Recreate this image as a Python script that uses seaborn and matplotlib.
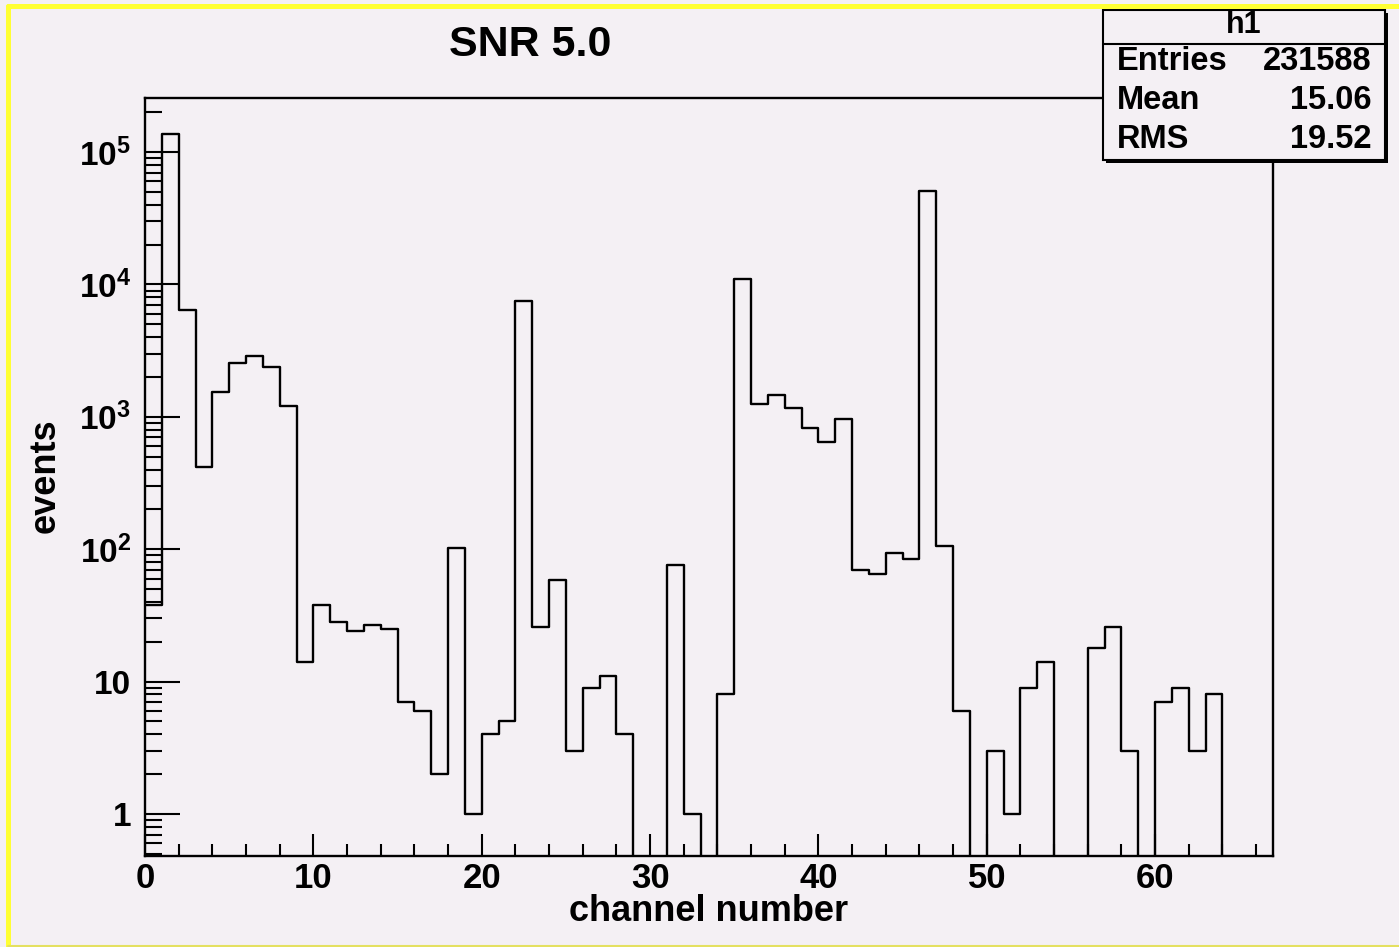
import numpy as np
import pandas as pd
import matplotlib
matplotlib.use("Agg")
import matplotlib.pyplot as plt
import matplotlib.ticker as mticker
from matplotlib.lines import Line2D
from matplotlib.patches import Rectangle
import seaborn as sns

# ---------------- data ----------------
channels = list(range(64))
counts = [38, 137000, 6400, 420, 1550, 2570, 2900, 2370, 1210, 14,
          38, 28, 24, 27, 25, 7, 6, 2, 103, 1,
          4, 5, 7550, 26, 59, 3, 9, 11, 4, 0,
          0, 76, 1, 0, 8, 11000, 1260, 1460, 1160, 830,
          650, 970, 70, 65, 94, 84, 51000, 106, 6, 0,
          3, 1, 9, 14, 0, 0, 18, 26, 3, 0,
          7, 9, 3, 8]
x_major_ticks = [0, 10, 20, 30, 40, 50, 60]
x_tick_labels = ["0", "10", "20", "30", "40", "50", "60"]
y_major_ticks = [1, 10, 100, 1000, 10000, 100000]
y_tick_labels = ["1", "10", r"$\mathbf{10^{2}}$", r"$\mathbf{10^{3}}$",
                 r"$\mathbf{10^{4}}$", r"$\mathbf{10^{5}}$"]
title_text = "SNR 5.0"
stats_name = "h1"
stats_rows = [("Entries", "231588"), ("Mean", "15.06"), ("RMS", "19.52")]
x_label = "channel number"
y_label = "events"

# ---------------- style ----------------
BG = "#f4f0f4"
sns.set_style("ticks")
plt.rcParams["font.family"] = ["Liberation Sans", "DejaVu Sans"]
plt.rcParams["font.weight"] = "bold"
plt.rcParams["text.color"] = "black"
plt.rcParams["axes.labelcolor"] = "black"
plt.rcParams["xtick.color"] = "black"
plt.rcParams["ytick.color"] = "black"
plt.rcParams["xtick.labelcolor"] = "black"
plt.rcParams["ytick.labelcolor"] = "black"
plt.rcParams["mathtext.fontset"] = "custom"
plt.rcParams["mathtext.rm"] = "Liberation Sans:bold"
plt.rcParams["mathtext.bf"] = "Liberation Sans:bold"
plt.rcParams["mathtext.it"] = "Liberation Sans:bold"

W, H = 1399, 947
fig = plt.figure(figsize=(W / 100, H / 100), dpi=100, facecolor=BG)

L, R, T, B = 145, 1273, 98, 856
ax = fig.add_axes([L / W, 1 - B / H, (R - L) / W, (B - T) / H])
ax.set_facecolor(BG)

df = pd.DataFrame({"channel": [c + 0.5 for c in channels], "events": counts})
sns.histplot(data=df, x="channel", weights="events", bins=67, binrange=(0, 67),
             element="step", fill=False, color="black", linewidth=1.7, ax=ax)

ax.set_yscale("log")
ax.set_xlim(0, 67)
ax.set_ylim(0.482, 2.56e5)

for s in ax.spines.values():
    s.set_linewidth(1.7)
    s.set_color("black")
    s.set_visible(True)

ax.xaxis.set_major_locator(mticker.FixedLocator(x_major_ticks))
ax.xaxis.set_major_formatter(mticker.FixedFormatter(x_tick_labels))
ax.xaxis.set_minor_locator(mticker.MultipleLocator(2))
ax.yaxis.set_major_locator(mticker.FixedLocator(y_major_ticks))
ax.yaxis.set_major_formatter(mticker.FixedFormatter(y_tick_labels))
ax.yaxis.set_minor_locator(mticker.LogLocator(base=10, subs=np.arange(2, 10), numticks=50))
ax.yaxis.set_minor_formatter(mticker.NullFormatter())

ax.tick_params(axis="x", which="major", direction="in", length=16, width=1.5,
               labelsize=25, pad=4, top=False, colors="black")
ax.tick_params(axis="x", which="minor", direction="in", length=9, width=1.5,
               top=False, colors="black")
ax.tick_params(axis="y", which="major", direction="in", length=25, width=1.5,
               labelsize=24, pad=10, right=False, colors="black")
ax.tick_params(axis="y", which="minor", direction="in", length=12.5, width=1.5,
               right=False, colors="black")
for lab in ax.get_xticklabels() + ax.get_yticklabels():
    lab.set_fontweight("bold")

ax.set_xlabel("")
ax.set_ylabel("")
fig.text((L + R) / 2 / W, 1 - 911 / H, x_label, ha="center", va="center",
         fontsize=26, fontweight="bold", color="black")
fig.text(45 / W, 1 - 476 / H, y_label, ha="center", va="center", rotation=90,
         fontsize=26, fontweight="bold", color="black")

# title
fig.text(530 / W, 1 - 45 / H, title_text, ha="center", va="center",
         fontsize=31, fontweight="bold", color="black")

# stats box
bx0, bx1, by0, by1 = 1103, 1385, 10, 160
sh = 3
fig.patches.append(Rectangle(((bx0 + sh) / W, 1 - (by1 + sh) / H), (bx1 - bx0) / W,
                             (by1 - by0) / H, transform=fig.transFigure,
                             facecolor="black", edgecolor="black", lw=0, zorder=5))
fig.patches.append(Rectangle((bx0 / W, 1 - by1 / H), (bx1 - bx0) / W, (by1 - by0) / H,
                             transform=fig.transFigure, facecolor=BG,
                             edgecolor="black", lw=1.5, zorder=6))
fig.lines.append(Line2D([bx0 / W, bx1 / W], [1 - 44 / H, 1 - 44 / H],
                        transform=fig.transFigure, color="black", lw=1.5, zorder=7))
fig.text((bx0 + bx1) / 2 / W, 1 - 25 / H, stats_name, ha="center", va="center",
         fontsize=22, fontweight="bold", zorder=8, color="black")
for i, (k, v) in enumerate(stats_rows):
    yy = 1 - (62 + 38.5 * i) / H
    fig.text(1117 / W, yy, k, ha="left", va="center", fontsize=23.5,
             fontweight="bold", zorder=8, color="black")
    fig.text(1371 / W, yy, v, ha="right", va="center", fontsize=23.5,
             fontweight="bold", zorder=8, color="black")

# yellow frame
YEL = "#ffff33"
fig.lines.append(Line2D([7.5 / W, 1.0], [1 - 6.5 / H, 1 - 6.5 / H],
                        transform=fig.transFigure, color=YEL, lw=3.6, zorder=10))
fig.lines.append(Line2D([7.5 / W, 7.5 / W], [1 - 6.5 / H, 0.0],
                        transform=fig.transFigure, color=YEL, lw=3.6, zorder=10))
fig.lines.append(Line2D([7.5 / W, 1.0], [1 - 946 / H, 1 - 946 / H],
                        transform=fig.transFigure, color="#e4e060", lw=1.5, zorder=10))

fig.savefig("out.png", dpi=100, facecolor=BG)
